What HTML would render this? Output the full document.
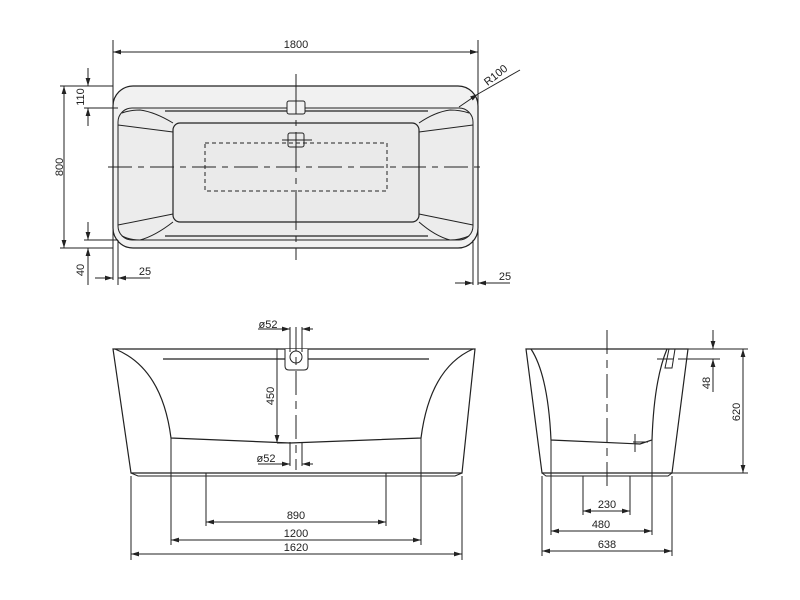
<!DOCTYPE html>
<html><head><meta charset="utf-8"><style>
html,body{margin:0;padding:0;background:#fff;}
svg{display:block;}
text{font-family:"Liberation Sans",sans-serif;font-size:11px;fill:#222;}
</style></head><body>
<svg width="800" height="600" viewBox="0 0 800 600" xmlns="http://www.w3.org/2000/svg">
<defs>
<marker id="a" viewBox="0 0 10 6" refX="10" refY="3" markerWidth="8" markerHeight="5" orient="auto-start-reverse" markerUnits="userSpaceOnUse"><path d="M0,0 L10,3 L0,6 z" fill="#222"/></marker>
</defs>
<g stroke="#222" stroke-width="1" fill="none">
<!-- TOP VIEW -->
<rect x="113" y="86" width="365" height="162" rx="20" fill="#f1f1f1" stroke-width="1.2"/>
<rect x="118" y="108" width="355" height="132" rx="14" fill="#ececec"/>
<rect x="173" y="123" width="246" height="99" rx="7" fill="#eaeaea" stroke-width="1.2"/>
<path d="M122,113 Q130,110 140,110 Q155,112 173,123 M118,125 L173,132 M122,236 Q130,240 140,240 Q155,236 173,222 M118,225 L173,214 M469,113 Q460,110 450,110 Q435,112 419,123 M473,125 L419,132 M469,236 Q460,240 450,240 Q435,236 419,222 M473,225 L419,214"/>
<path d="M165,111 H428 M165,236 H428" stroke-width="1.2"/>
<rect x="205" y="143" width="182" height="48" stroke-dasharray="4,3"/>
<rect x="287" y="101" width="18" height="13" rx="2" fill="#f1f1f1"/>
<rect x="288" y="133" width="16" height="14" rx="2"/>
<path d="M282,140 H312"/>
<path d="M108,167 H483" stroke-dasharray="24,6,6,6"/>
<path d="M296,74 V260" stroke-dasharray="40,6,6,6"/>
<path d="M113,40 V280 M478,40 V285 M118,240 V285 M473,240 V285"/>
<path d="M113,52 H478" marker-start="url(#a)" marker-end="url(#a)"/>
<path d="M60,86 H113 M60,248 H113 M84,108 H118 M84,240 H118"/>
<path d="M64,86 V248" marker-start="url(#a)" marker-end="url(#a)"/>
<path d="M88,68 V86" marker-end="url(#a)"/><path d="M88,126 V108" marker-end="url(#a)"/>
<path d="M88,222 V240" marker-end="url(#a)"/><path d="M88,285 V248" marker-end="url(#a)"/>
<path d="M95,278 H113" marker-end="url(#a)"/><path d="M150,278 H118" marker-end="url(#a)"/>
<path d="M455,283 H473" marker-end="url(#a)"/><path d="M510,283 H478" marker-end="url(#a)"/>
<path d="M459,107 L478,94" marker-end="url(#a)"/><path d="M478,94 L520,70"/>
<!-- FRONT VIEW -->
<path d="M113,349 H475 L462,473 H131 Z" fill="#fff" stroke-width="1.2"/>
<path d="M131,473 L138,476 H455 L462,473"/>
<path d="M115,349 Q162,368 171,438 L290,443 L421,438 Q430,368 473,349" stroke-width="1.2"/>
<path d="M163,359 H429" stroke-width="1.2"/>
<path d="M285,349 V366 Q285,370 289,370 H304 Q308,370 308,366 V349" fill="#fff"/>
<circle cx="296" cy="357" r="6"/>
<path d="M296,327 V470" stroke-dasharray="24,6,8,6"/>
<path d="M290,327 V352 M302,327 V352 M290,442 V466 M302,442 V466"/>
<path d="M258,329 H290" marker-end="url(#a)"/><path d="M313,329 H302" marker-end="url(#a)"/>
<path d="M258,464 H290" marker-end="url(#a)"/><path d="M313,464 H302" marker-end="url(#a)"/>
<path d="M277,349 V443" marker-end="url(#a)"/><path d="M277,443 H290"/>
<path d="M206,473 V526 M386,473 V526 M171,438 V545 M421,438 V545 M131,476 V560 M462,476 V560"/>
<path d="M206,522 H386" marker-start="url(#a)" marker-end="url(#a)"/>
<path d="M171,540 H421" marker-start="url(#a)" marker-end="url(#a)"/>
<path d="M131,554 H462" marker-start="url(#a)" marker-end="url(#a)"/>
<!-- SIDE VIEW -->
<path d="M526,349 H688 L672,473 H542 Z" fill="#fff" stroke-width="1.2"/>
<path d="M542,473 L546,476 H668 L672,473"/>
<path d="M531,349 Q548,375 551,440 L640,444 L652,440 Q654,380 667,349" stroke-width="1.2"/>
<path d="M669,349 L665,368 H672 L675,349" />
<path d="M657,359 H673 M678,359 H720"/>
<path d="M633,442 H648 M635,434 V452"/>
<path d="M607,330 V487" stroke-dasharray="24,6,8,6"/>
<path d="M688,349 H748 M672,473 H748"/>
<path d="M713,330 V349" marker-end="url(#a)"/><path d="M713,392 V359" marker-end="url(#a)"/>
<path d="M743,349 V473" marker-start="url(#a)" marker-end="url(#a)"/>
<path d="M583,476 V515 M630,476 V515 M551,440 V535 M652,440 V535 M542,476 V556 M672,476 V556"/>
<path d="M583,511 H630" marker-start="url(#a)" marker-end="url(#a)"/>
<path d="M551,531 H652" marker-start="url(#a)" marker-end="url(#a)"/>
<path d="M542,551 H672" marker-start="url(#a)" marker-end="url(#a)"/>
</g>
<g>
<text x="296" y="48" text-anchor="middle">1800</text>
<text transform="translate(63,167) rotate(-90)" text-anchor="middle">800</text>
<text transform="translate(84,97) rotate(-90)" text-anchor="middle">110</text>
<text transform="translate(84,270) rotate(-90)" text-anchor="middle">40</text>
<text x="145" y="275" text-anchor="middle">25</text>
<text x="505" y="280" text-anchor="middle">25</text>
<text transform="translate(498,78) rotate(-38)" text-anchor="middle">R100</text>
<text x="268" y="328" text-anchor="middle">ø52</text>
<text x="266" y="462" text-anchor="middle">ø52</text>
<text transform="translate(274,396) rotate(-90)" text-anchor="middle">450</text>
<text x="296" y="519" text-anchor="middle">890</text>
<text x="296" y="537" text-anchor="middle">1200</text>
<text x="296" y="551" text-anchor="middle">1620</text>
<text transform="translate(710,383) rotate(-90)" text-anchor="middle">48</text>
<text transform="translate(740,412) rotate(-90)" text-anchor="middle">620</text>
<text x="607" y="508" text-anchor="middle">230</text>
<text x="601" y="528" text-anchor="middle">480</text>
<text x="607" y="548" text-anchor="middle">638</text>
</g>
</svg>
</body></html>
